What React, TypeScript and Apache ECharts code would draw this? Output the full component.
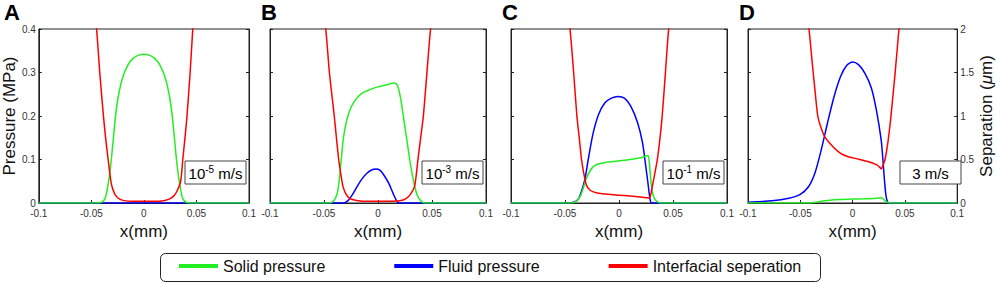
import React, { useEffect, useRef } from 'react';
import * as echarts from 'echarts';

// ---------- data ----------
const panelLetters = ['A', 'B', 'C', 'D'];
const speedMantissa = ['10', '10', '10', '3'];
const speedExponent = ['-5', '-3', '-1', ''];
const seriesNames = ['Solid pressure', 'Fluid pressure', 'Interfacial seperation'];

// Panel A (10^-5 m/s)
const solidA = [[-0.1, 0], [-0.045, 0], [-0.04, 0.002], [-0.037, 0.01], [-0.035, 0.03], [-0.033, 0.06], [-0.031, 0.1], [-0.029, 0.15], [-0.027, 0.2], [-0.024, 0.25], [-0.02, 0.29], [-0.015, 0.318], [-0.01, 0.333], [-0.005, 0.34], [0, 0.342], [0.005, 0.34], [0.01, 0.333], [0.015, 0.318], [0.02, 0.29], [0.024, 0.25], [0.027, 0.2], [0.029, 0.15], [0.031, 0.1], [0.033, 0.06], [0.035, 0.03], [0.037, 0.01], [0.04, 0.002], [0.045, 0], [0.1, 0]];
const fluidA = [[-0.1, 0], [-0.05, 0], [0, 0], [0.05, 0], [0.1, 0]];
const sepA = [[-0.05, 2.6], [-0.045, 2.0], [-0.042, 1.5], [-0.0385, 1.0], [-0.036, 0.7], [-0.034, 0.5], [-0.031, 0.22], [-0.028, 0.11], [-0.025, 0.06], [-0.02, 0.03], [-0.01, 0.02], [0, 0.02], [0.01, 0.02], [0.02, 0.03], [0.025, 0.05], [0.029, 0.09], [0.032, 0.15], [0.035, 0.25], [0.037, 0.5], [0.0395, 0.8], [0.041, 1.0], [0.044, 1.5], [0.0465, 2.0], [0.05, 2.6]];

// Panel B (10^-3 m/s)
const solidB = [[-0.1, 0], [-0.045, 0], [-0.041, 0.005], [-0.038, 0.02], [-0.036, 0.05], [-0.034, 0.1], [-0.032, 0.15], [-0.029, 0.19], [-0.025, 0.22], [-0.02, 0.24], [-0.015, 0.252], [-0.01, 0.258], [-0.005, 0.263], [0, 0.267], [0.005, 0.27], [0.01, 0.273], [0.015, 0.276], [0.018, 0.27], [0.021, 0.24], [0.024, 0.19], [0.027, 0.14], [0.03, 0.09], [0.033, 0.05], [0.036, 0.02], [0.039, 0.007], [0.043, 0], [0.1, 0]];
const fluidB = [[-0.1, 0], [-0.032, 0], [-0.028, 0.005], [-0.024, 0.018], [-0.02, 0.035], [-0.015, 0.055], [-0.01, 0.069], [-0.005, 0.077], [-0.002, 0.078], [0.002, 0.075], [0.006, 0.062], [0.01, 0.045], [0.014, 0.022], [0.017, 0.006], [0.019, 0], [0.1, 0]];
const sepB = [[-0.055, 2.6], [-0.0484, 2.0], [-0.045, 1.5], [-0.0405, 1.0], [-0.0385, 0.75], [-0.0364, 0.5], [-0.034, 0.3], [-0.0326, 0.2], [-0.03, 0.11], [-0.026, 0.05], [-0.02, 0.03], [-0.01, 0.02], [0, 0.02], [0.01, 0.02], [0.02, 0.025], [0.026, 0.05], [0.03, 0.1], [0.034, 0.2], [0.037, 0.5], [0.0395, 0.75], [0.042, 1.0], [0.045, 1.45], [0.0487, 2.0], [0.055, 2.6]];

// Panel C (10^-1 m/s)
const solidC = [[-0.1, 0], [-0.045, 0], [-0.04, 0.003], [-0.036, 0.015], [-0.033, 0.035], [-0.03, 0.058], [-0.027, 0.073], [-0.024, 0.083], [-0.02, 0.089], [-0.015, 0.092], [-0.01, 0.094], [0, 0.097], [0.01, 0.1], [0.02, 0.104], [0.025, 0.108], [0.027, 0.109], [0.0285, 0.08], [0.03, 0.04], [0.032, 0.015], [0.035, 0.004], [0.039, 0], [0.1, 0]];
const fluidC = [[-0.1, 0], [-0.05, 0], [-0.042, 0.002], [-0.038, 0.008], [-0.035, 0.025], [-0.0316, 0.054], [-0.0285, 0.1], [-0.024, 0.16], [-0.019, 0.203], [-0.0132, 0.23], [-0.007, 0.241], [-0.001, 0.245], [0.005, 0.241], [0.011, 0.222], [0.0173, 0.184], [0.0218, 0.138], [0.0248, 0.084], [0.0264, 0.054], [0.0288, 0.008], [0.0302, 0], [0.1, 0]];
const sepC = [[-0.052, 2.6], [-0.0454, 2.0], [-0.042, 1.5], [-0.039, 1.0], [-0.0368, 0.75], [-0.0347, 0.5], [-0.032, 0.3], [-0.03, 0.2], [-0.027, 0.15], [-0.023, 0.125], [-0.02, 0.115], [-0.01, 0.1], [0, 0.09], [0.01, 0.08], [0.02, 0.07], [0.026, 0.06], [0.028, 0.058], [0.0295, 0.1], [0.031, 0.2], [0.033, 0.33], [0.0355, 0.5], [0.038, 0.75], [0.04, 1.0], [0.043, 1.5], [0.046, 2.0], [0.052, 2.6]];

// Panel D (3 m/s)
const solidD = [[-0.1, 0], [-0.045, 0], [-0.035, 0.002], [-0.03, 0.004], [-0.02, 0.007], [-0.01, 0.008], [0, 0.009], [0.01, 0.0095], [0.02, 0.0105], [0.027, 0.012], [0.029, 0.01], [0.031, 0.005], [0.033, 0.002], [0.036, 0], [0.1, 0]];
const fluidD = [[-0.1, 0.002], [-0.077, 0.005], [-0.061, 0.011], [-0.05, 0.02], [-0.042, 0.038], [-0.036, 0.069], [-0.03, 0.122], [-0.024, 0.184], [-0.0177, 0.245], [-0.0115, 0.291], [-0.0053, 0.317], [0, 0.324], [0.0056, 0.318], [0.0118, 0.298], [0.018, 0.264], [0.0227, 0.214], [0.0273, 0.145], [0.029, 0.099], [0.0304, 0.054], [0.032, 0.015], [0.0336, 0.002], [0.036, 0], [0.1, 0]];
const sepD = [[-0.048, 2.6], [-0.0417, 2.0], [-0.0385, 1.6], [-0.036, 1.3], [-0.0333, 1.0], [-0.03, 0.86], [-0.0265, 0.76], [-0.019, 0.65], [-0.0115, 0.57], [-0.005, 0.535], [0, 0.52], [0.007, 0.5], [0.0134, 0.48], [0.019, 0.46], [0.0227, 0.44], [0.026, 0.41], [0.0273, 0.39], [0.029, 0.43], [0.031, 0.5], [0.034, 0.72], [0.0367, 1.0], [0.0387, 1.25], [0.0407, 1.5], [0.0443, 2.0], [0.048, 2.5]];

const solidData = [solidA, solidB, solidC, solidD];
const fluidData = [fluidA, fluidB, fluidC, fluidD];
const sepData = [sepA, sepB, sepC, sepD];

// ---------- layout / style ----------
const GRID_LEFTS = [33, 270, 511, 748];
const GRID_W = 216;
const GRID_TOP = 29;
const GRID_H = 174;
const GREEN = '#22ee22';
const BLUE = '#0000ff';
const RED = '#ff0000';
const FONT = 'Arial, "Liberation Sans", Helvetica, sans-serif';
const AXIS_COLOR = '#222';
const LABEL_COLOR = '#333';

function buildOption() {
  const grid: any[] = [];
  const xAxis: any[] = [];
  const yAxis: any[] = [];
  const series: any[] = [];
  const graphic: any[] = [];

  for (let i = 0; i < 4; i++) {
    grid.push({
      left: GRID_LEFTS[i], top: GRID_TOP, width: GRID_W, height: GRID_H,
      show: true, borderColor: AXIS_COLOR, borderWidth: 1, backgroundColor: '#fff',
    });
    xAxis.push({
      gridIndex: i, type: 'value', min: -0.1, max: 0.1, interval: 0.05,
      name: 'x(mm)', nameLocation: 'middle', nameGap: 15,
      nameTextStyle: { fontSize: 17, fontFamily: FONT, color: '#111' },
      axisLine: { show: true, onZero: false, lineStyle: { color: AXIS_COLOR } },
      axisTick: { show: true, inside: true, length: 3, lineStyle: { color: AXIS_COLOR } },
      axisLabel: { fontSize: 10, fontFamily: FONT, color: LABEL_COLOR, margin: 5 },
      splitLine: { show: false },
    });
    yAxis.push({
      gridIndex: i, type: 'value', position: 'left', min: 0, max: 0.4, interval: 0.1,
      name: i === 0 ? 'Pressure (MPa)' : '', nameLocation: 'middle', nameGap: 13,
      nameRotate: 90,
      nameTextStyle: { fontSize: 17, fontFamily: FONT, color: '#111' },
      axisLine: { show: true, onZero: false, lineStyle: { color: AXIS_COLOR } },
      axisTick: { show: true, inside: true, length: 3, lineStyle: { color: AXIS_COLOR } },
      axisLabel: { show: i === 0, fontSize: 10, fontFamily: FONT, color: LABEL_COLOR, margin: 3 },
      splitLine: { show: false },
    });
    yAxis.push({
      gridIndex: i, type: 'value', position: 'right', min: 0, max: 2, interval: 0.5,
      name: i === 3 ? 'Separation ({i|μ}m)' : '', nameLocation: 'middle', nameGap: 15,
      nameRotate: 90,
      nameTextStyle: {
        fontSize: 17, fontFamily: FONT, color: '#111',
        rich: { i: { fontSize: 17, fontFamily: FONT, fontStyle: 'italic', color: '#111' } },
      },
      axisLine: { show: true, onZero: false, lineStyle: { color: AXIS_COLOR } },
      axisTick: { show: true, inside: true, length: 3, lineStyle: { color: AXIS_COLOR } },
      axisLabel: { show: i === 3, fontSize: 10, fontFamily: FONT, color: LABEL_COLOR, margin: 3 },
      splitLine: { show: false },
    });

    const common = { type: 'line', showSymbol: false, smooth: 0.25, clip: true, xAxisIndex: i };
    series.push({ ...common, name: seriesNames[1], yAxisIndex: 2 * i, data: fluidData[i], color: BLUE, lineStyle: { width: 1.5, color: BLUE }, z: 2 });
    series.push({ ...common, name: seriesNames[0], yAxisIndex: 2 * i, data: solidData[i], color: GREEN, lineStyle: { width: 1.5, color: GREEN }, z: 3 });
    series.push({ ...common, name: seriesNames[2], yAxisIndex: 2 * i + 1, data: sepData[i], color: RED, lineStyle: { width: 1.5, color: RED }, z: 4 });

    // panel letter
    graphic.push({
      type: 'text', left: GRID_LEFTS[i] - (i === 0 ? 29 : 9), top: 1, z: 10,
      style: { text: panelLetters[i], font: `bold 22px ${FONT}`, fill: '#000' },
    });
    // speed box
    const bx = GRID_LEFTS[i] + 152;
    graphic.push({
      type: 'rect', shape: { x: bx, y: 161, width: 61, height: 23 }, z: 20,
      style: { fill: '#fff', stroke: '#444', lineWidth: 1 },
    });
    const exp = speedExponent[i];
    graphic.push({
      type: 'text', x: bx + 30.5, y: 173, z: 21,
      style: {
        text: exp ? `{n|${speedMantissa[i]}}{s|${exp}}{n| m/s}` : `{n|${speedMantissa[i]} m/s}`,
        align: 'center', verticalAlign: 'middle',
        rich: {
          n: { fontSize: 15, fontFamily: FONT, lineHeight: 18, fill: '#000', color: '#000' },
          s: { fontSize: 10, fontFamily: FONT, lineHeight: 9, verticalAlign: 'top', fill: '#000', color: '#000' },
        },
      },
    });
  }

  // legend frame
  graphic.push({
    type: 'rect', shape: { x: 160.5, y: 253.5, width: 660, height: 28, r: 5 }, z: 0,
    style: { fill: '#fff', stroke: '#222', lineWidth: 1 },
  });

  return {
    animation: false,
    backgroundColor: '#fff',
    grid, xAxis, yAxis, series, graphic,
    legend: {
      data: seriesNames,
      left: 179, top: 258, padding: 0,
      icon: 'rect', itemWidth: 39, itemHeight: 4, itemGap: 69,
      textStyle: { fontSize: 16, fontFamily: FONT, color: '#111' },
      z: 5,
    },
  };
}

export default function App() {
  const ref = useRef<HTMLDivElement>(null);
  useEffect(() => {
    if (!ref.current) return;
    const chart = echarts.init(ref.current, undefined, { renderer: 'svg' });
    chart.setOption(buildOption() as any);
    return () => chart.dispose();
  }, []);
  return <div ref={ref} style={{ position: 'absolute', left: 0, top: 0, width: 996, height: 283 }} />;
}
